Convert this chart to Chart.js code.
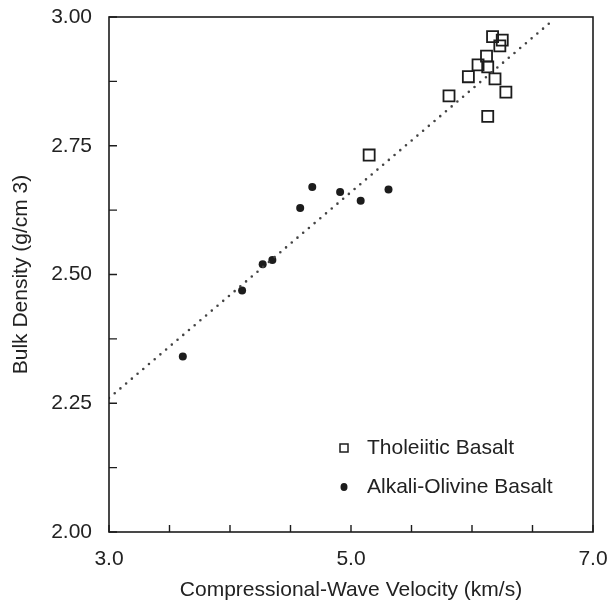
<!DOCTYPE html>
<html>
<head>
<meta charset="utf-8">
<script src="https://cdn.jsdelivr.net/npm/chart.js@4.4.1/dist/chart.umd.min.js"></script>
<style>
  html, body { margin: 0; padding: 0; background: #fff; }
  #wrap { width: 613px; height: 609px; }
</style>
</head>
<body>
<div id="wrap"><canvas id="chart" width="613" height="609"></canvas></div>
<script>
// values
const tholeiiticVp = [6.17, 6.25, 6.23, 6.12, 6.05, 6.13, 5.97, 6.19, 6.28, 5.81, 6.13, 5.15];
const tholeiiticRho = [2.962, 2.955, 2.944, 2.924, 2.907, 2.903, 2.884, 2.880, 2.854, 2.847, 2.807, 2.732];

const alkaliVp = [4.68, 4.91, 5.31, 5.08, 4.58, 4.35, 4.27, 4.10, 3.61];
const alkaliRho = [2.670, 2.660, 2.665, 2.643, 2.629, 2.528, 2.520, 2.469, 2.341];

// dotted trend line end points
const trendVp = [3.0, 6.65];
const trendRho = [2.26, 2.99];

const seriesNames = ['Tholeiitic Basalt', 'Alkali-Olivine Basalt'];
const xTitle = 'Compressional-Wave Velocity (km/s)';
const yTitle = 'Bulk Density (g/cm 3)';

const ink = '#1c1c1c';
const fontFamily = '"Liberation Sans", Arial, Helvetica, sans-serif';

function toPoints(xs, ys) {
    return xs.map((x, i) => ({ x: x, y: ys[i] }));
}

// no extra label padding: the plot box is set by layout.padding
function noScalePadding(s) {
    s.paddingTop = 0;
    s.paddingBottom = 0;
    s.paddingLeft = 0;
    s.paddingRight = 0;
}

// box, inward ticks and the legend inside the plot
const framePlugin = {
    id: 'frame',
    afterDatasetsDraw(chart) {
        const ctx = chart.ctx;
        const a = chart.chartArea;
        const xs = chart.scales.x;
        const ys = chart.scales.y;
        ctx.save();
        ctx.strokeStyle = ink;
        ctx.lineWidth = 1.6;
        ctx.strokeRect(a.left, a.top, a.right - a.left, a.bottom - a.top);

        ctx.lineWidth = 1.4;
        ctx.beginPath();
        xs.ticks.forEach(t => {
            const px = xs.getPixelForValue(t.value);
            ctx.moveTo(px, a.bottom);
            ctx.lineTo(px, a.bottom - 7);
        });
        ys.ticks.forEach(t => {
            const py = ys.getPixelForValue(t.value);
            ctx.moveTo(a.left, py);
            ctx.lineTo(a.left + 8, py);
        });
        ctx.stroke();

        // legend
        const lx = a.left + 235;
        const ly1 = a.bottom - 84;
        const ly2 = a.bottom - 45;
        ctx.lineWidth = 1.5;
        ctx.strokeRect(lx - 4, ly1 - 4, 8, 8);
        ctx.fillStyle = ink;
        ctx.beginPath();
        ctx.ellipse(lx, ly2, 3.5, 4, 0, 0, Math.PI * 2);
        ctx.fill();
        ctx.font = '21px ' + fontFamily;
        ctx.textBaseline = 'middle';
        ctx.fillStyle = '#222';
        ctx.fillText(seriesNames[0], lx + 23, ly1);
        ctx.fillText(seriesNames[1], lx + 23, ly2);
        ctx.restore();
    }
};

new Chart(document.getElementById('chart').getContext('2d'), {
    type: 'scatter',
    data: {
        datasets: [
            {
                type: 'line',
                label: 'trend',
                data: toPoints(trendVp, trendRho),
                borderColor: '#444',
                borderWidth: 2.6,
                borderDash: [0, 7.5],
                borderCapStyle: 'round',
                pointRadius: 0,
                fill: false
            },
            {
                label: seriesNames[0],
                data: toPoints(tholeiiticVp, tholeiiticRho),
                pointStyle: 'rect',
                pointRadius: 7.8,
                pointBorderWidth: 1.8,
                pointBorderColor: ink,
                pointBackgroundColor: 'rgba(255,255,255,0)'
            },
            {
                label: seriesNames[1],
                data: toPoints(alkaliVp, alkaliRho),
                pointStyle: 'circle',
                pointRadius: 4,
                pointBorderWidth: 0,
                pointBackgroundColor: ink
            }
        ]
    },
    options: {
        responsive: false,
        animation: false,
        devicePixelRatio: 1,
        layout: { autoPadding: false, padding: { top: 17, right: 20, left: 0, bottom: 0 } },
        plugins: {
            legend: { display: false },
            tooltip: { enabled: false }
        },
        scales: {
            x: {
                type: 'linear',
                min: 3,
                max: 7,
                border: { display: false },
                grid: { drawOnChartArea: false, drawTicks: false },
                ticks: {
                    stepSize: 0.5,
                    autoSkip: false,
                    maxRotation: 0,
                    padding: 15,
                    color: '#222',
                    font: { family: fontFamily, size: 21 },
                    callback: v => (Math.abs(v - Math.round(v)) < 1e-6 && Math.round(v) % 2 === 1) ? v.toFixed(1) : ''
                },
                title: {
                    display: true,
                    text: xTitle,
                    color: '#222',
                    font: { family: fontFamily, size: 21 },
                    padding: { top: 0, bottom: 6 }
                },
                afterFit: s => { s.height = 77; noScalePadding(s); }
            },
            y: {
                type: 'linear',
                min: 2,
                max: 3,
                border: { display: false },
                grid: { drawOnChartArea: false, drawTicks: false },
                ticks: {
                    stepSize: 0.125,
                    autoSkip: false,
                    padding: 17,
                    color: '#222',
                    font: { family: fontFamily, size: 21 },
                    callback: v => (Math.abs(v * 4 - Math.round(v * 4)) < 1e-6) ? v.toFixed(2) : ''
                },
                title: {
                    display: true,
                    text: yTitle,
                    color: '#222',
                    font: { family: fontFamily, size: 21 },
                    padding: { top: 9, bottom: 0 }
                },
                afterFit: s => { s.width = 109; noScalePadding(s); }
            }
        }
    },
    plugins: [framePlugin]
});
</script>
</body>
</html>
